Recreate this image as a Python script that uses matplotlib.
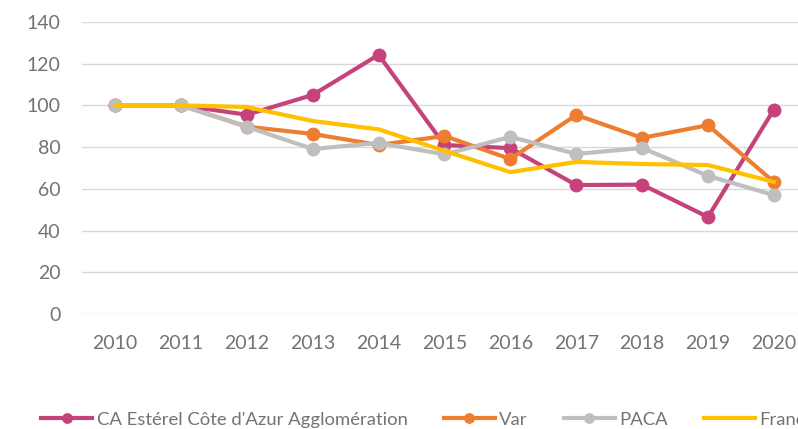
import matplotlib.pyplot as plt

plt.rcParams['font.family'] = ['Lato', 'DejaVu Sans']

years = ['2010', '2011', '2012', '2013', '2014', '2015', '2016', '2017', '2018', '2019', '2020']

ca_esterel = [100, 100, 95.5, 105, 124.2, 81, 79.5, 61.8, 62, 46.5, 98]
var = [100, 100, 89.8, 86.3, 81, 85.3, 74.3, 95.4, 84.4, 90.5, 63.3]
paca = [100, 100, 89.7, 79.1, 82, 76.5, 84.9, 76.7, 79.6, 66.2, 57]
france = [100, 100, 99.2, 92.5, 88.5, 78.2, 68, 72.9, 71.9, 71.4, 63.3]

labels = ["CA Estérel Côte d'Azur Agglomération", 'Var', 'PACA', 'France']

fig = plt.figure(figsize=(7.98, 4.29), dpi=100)
ax = fig.add_axes([0.103, 0.268, 0.908, 0.681])

x = range(len(years))
ax.plot(x, ca_esterel, color='#C5437A', lw=3, marker='o', ms=9, label=labels[0], zorder=3)
ax.plot(x, var, color='#ED7D31', lw=3, marker='o', ms=9, label=labels[1], zorder=4)
ax.plot(x, paca, color='#BFBFBF', lw=3, marker='o', ms=9, label=labels[2], zorder=5)
ax.plot(x, france, color='#FFC000', lw=3, label=labels[3], zorder=6)

ax.set_xlim(-0.5, len(years) - 0.5)
ax.set_ylim(0, 140)
ax.set_yticks(range(0, 141, 20))
ax.set_xticks(list(x))
ax.set_xticklabels(years)
ax.grid(axis='y', color='#D9D9D9', lw=1)
ax.set_axisbelow(True)
for s in ax.spines.values():
    s.set_visible(False)
ax.tick_params(length=0, labelsize=14, colors='#737373')
ax.tick_params(axis='x', pad=15)
ax.tick_params(axis='y', pad=15.5)

fig.legend(loc='center left', bbox_to_anchor=(0.052, 0.022), ncol=4, frameon=False,
           fontsize=13.3, labelcolor='#737373', handlelength=2.75, handletextpad=0.25,
           columnspacing=1.95, borderaxespad=0, borderpad=0, markerscale=0.75)

plt.savefig('out.png', dpi=100)
